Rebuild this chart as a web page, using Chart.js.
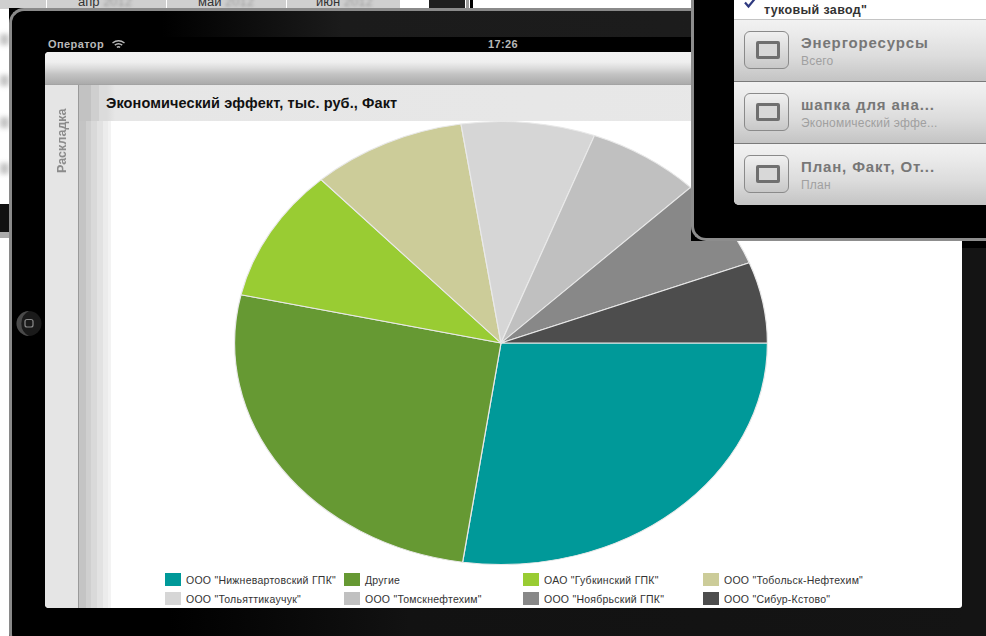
<!DOCTYPE html>
<html lang="ru">
<head>
<meta charset="utf-8">
<title>Экономический эффект, тыс. руб., Факт</title>
<script src="https://cdn.jsdelivr.net/npm/chart.js@4"></script>
<style>
  html, body { margin: 0; padding: 0; background: #fff; }
  #stage { position: relative; width: 986px; height: 636px; overflow: hidden; background: #fff;
           font-family: "Liberation Sans", Arial, sans-serif; }
  #stage div, #stage span, #stage canvas, #stage svg { position: absolute; }

  /* page behind the tablet */
  .cell { top: 0; height: 9px; background: #cfcfcf; font-size: 13px; line-height: 3px; color: #333; overflow: hidden; white-space: nowrap; }
  .cell i { font-style: normal; color: #999; filter: blur(1.4px); }
  .smear { left: 0; width: 9px; height: 11px; background: #c4c4c4; filter: blur(2.5px); }

  /* tablet body */
  #body { left: 9px; top: 8px; width: 990px; height: 640px; background: #000; }
  #edge { left: 0; top: 0; width: 990px; height: 640px; box-sizing: border-box; border: 3px solid #8a8a8a;
          border-right: 0; border-bottom: 0; border-radius: 15px 0 0 15px; }
  #shine { left: 3px; top: 3px; width: 987px; height: 26px;
           background: linear-gradient(90deg, #000 0, #000 150px, #1b1b1b 330px, #1d1d1d 100%); }
  #sheen { left: 160px; top: 600px; width: 830px; height: 40px;
           background: linear-gradient(90deg, #000 0, #121212 240px, #141414 100%); }
  #rightband { left: 953px; top: 240px; width: 40px; height: 400px; background: #141414; }

  /* screen */
  #screen { left: 45px; top: 52px; width: 917px; height: 556px; background: #fff; border-radius: 4px 4px 3px 4px; overflow: hidden; }
  #bar { left: 0; top: 0; width: 100%; height: 33px;
         background: linear-gradient(#f1f1f1 0, #efefef 10px, #dcdcdc 16px, #c4c4c4 22px, #ababab 32px, #9c9c9c 33px); }
  #side { left: 0; top: 33px; width: 33px; height: 523px; background: #e5e5e5; border-right: 1px solid #9a9a9a; }
  #sideLabel { left: 10px; top: 20px; width: 14px; height: 71px; color: #8b8b8b; font-size: 12.5px; font-weight: bold;
               writing-mode: vertical-rl; transform: rotate(180deg); text-align: center; line-height: 14px; white-space: nowrap; }
  #stripes { left: 34px; top: 33px; width: 32px; height: 523px;
             background: linear-gradient(90deg, #c4c4c4 0 7px, #cfcfcf 7px 12px, #d9d9d9 12px 18px, #e2e2e2 18px 24px, #ececec 24px 29px, #f3f3f3 29px 32px); }
  #titleBar { left: 34px; top: 33px; width: 883px; height: 36px;
              background: linear-gradient(90deg, #c2c2c2 0 12px, #cfcfcf 12px 20px, #dbdbdb 20px 28px, #e6e6e6 36px, #e8e8e8 100%); }
  #title { left: 61px; top: 43px; font-size: 14.5px; font-weight: bold; color: #111; white-space: nowrap; letter-spacing: .1px; }

  /* chart */
  #chartBox { left: 234px; top: 121px; width: 534px; height: 444px; }

  /* legend */
  .swatch { width: 16px; height: 13px; }
  .legendText { font-size: 10.5px; line-height: 13px; color: #333; white-space: nowrap; letter-spacing: .25px; }

  /* status bar */
  .status { color: #b9b9b9; font-weight: bold; font-size: 11px; white-space: nowrap; letter-spacing: .4px; }

  /* popover */
  #popBack { left: 691px; top: 0; width: 300px; height: 241px; background: #000; }
  #popFrame { left: 0; top: -20px; width: 300px; height: 261px; box-sizing: border-box; background: #000;
              border: 3px solid #8d8d8d; border-right: 0; border-top: 0; border-radius: 0 0 0 15px; }
  #list { left: 734px; top: 0; width: 252px; height: 205px; background: #fff; border-radius: 0 0 0 5px; overflow: hidden; }
  .row { left: 0; width: 252px; height: 61px;
         background: linear-gradient(#f2f2f2 0, #ececec 20%, #dcdcdc 60%, #c4c4c4 100%); }
  .rowLine { left: 0; width: 252px; height: 1px; background: #7a7a7a; }
  .btn { left: 10px; width: 45px; height: 38px; box-sizing: border-box; border: 1px solid #8a8a8a; border-radius: 6px;
         background: linear-gradient(#f0f0f0, #c8c8c8); }
  .btn div { left: 11px; top: 9px; width: 24px; height: 18px; box-sizing: border-box; border: 3px solid #6f6f6f; border-radius: 2px; background: #d8d8d8; }
  .rowHead { left: 67px; font-size: 15px; font-weight: bold; color: #777; white-space: nowrap; letter-spacing: .85px; }
  .rowSub { left: 67px; font-size: 12px; color: #a0a0a0; white-space: nowrap; letter-spacing: .2px; }
</style>
</head>
<body>
<div id="stage">
  <!-- spreadsheet page showing behind the device -->
  <div class="cell" style="left:0;width:46px"></div>
  <div class="cell" style="left:47px;width:119px;padding-left:31px;box-sizing:border-box">апр <i>2012</i></div>
  <div class="cell" style="left:167px;width:119px;padding-left:31px;box-sizing:border-box">май <i>2012</i></div>
  <div class="cell" style="left:287px;width:113px;padding-left:29px;box-sizing:border-box">июн <i>2012</i></div>
  <div style="left:429px;top:0;width:36px;height:9px;background:#1e1e1e"></div>
  <div style="left:466px;top:0;width:3px;height:9px;background:#999"></div>
  <div style="left:470px;top:0;width:3px;height:9px;background:#000"></div>
  <div class="smear" style="top:34px"></div>
  <div class="smear" style="top:75px"></div>
  <div class="smear" style="top:117px"></div>
  <div class="smear" style="top:163px"></div>
  <div style="left:0;top:204px;width:9px;height:28px;background:#111"></div>
  <div style="left:0;top:232px;width:9px;height:6px;background:#aaa"></div>

  <div id="body">
    <div id="shine"></div>
    <div id="sheen"></div>
    <div id="rightband"></div>
    <div id="edge"></div>
  </div>

  <div class="status" style="left:48px;top:38px">Оператор</div>
  <svg style="left:111px;top:39px" width="15" height="11" viewBox="0 0 15 11" fill="none" stroke="#b9b9b9" stroke-width="1.5">
    <path d="M1.5 4 Q7.5 -0.5 13.5 4"/><path d="M3.8 6.2 Q7.5 3.4 11.2 6.2"/><path d="M5.9 8.3 Q7.5 7 9.1 8.3"/>
  </svg>
  <div class="status" style="left:488px;top:38px">17:26</div>

  <!-- home button -->
  <svg style="left:15px;top:310px" width="27" height="27" viewBox="0 0 27 27">
    <circle cx="14" cy="13.5" r="12.5" fill="#1a1a1a"/>
    <path d="M14 1 A12.5 12.5 0 0 0 14 26 A14 14 0 0 1 14 1" fill="#4a4a4a"/>
    <rect x="10" y="9.5" width="8" height="7.5" rx="2" fill="none" stroke="#8a8a8a" stroke-width="1.2"/>
  </svg>

  <div id="screen">
    <div id="bar"></div>
    <div id="stripes"></div>
    <div id="titleBar"></div>
    <div id="side"><div id="sideLabel">Раскладка</div></div>
    <div id="title">Экономический эффект, тыс. руб., Факт</div>
  </div>

  <div id="chartBox"><canvas id="pie" width="534" height="444"></canvas></div>
  <div id="legend"></div>

  <div id="popBack"><div id="popFrame"></div></div>
  <div id="list">
    <svg style="left:10px;top:-2px" width="13" height="11" viewBox="0 0 13 11" fill="none" stroke="#2f3a80" stroke-width="2.2"><path d="M1 4.5 L4.5 8.5 L11.5 0"/></svg>
    <div style="left:30px;top:3px;font-size:12.5px;font-weight:bold;color:#333;white-space:nowrap;letter-spacing:.35px">туковый завод"</div>
    <div style="left:0;top:19px;width:252px;height:1px;background:#c4c4c4"></div>
    <div id="rows"></div>
  </div>
</div>

<script>
// Slices run clockwise from three o'clock; values are shares of the total, in percent.
const categories = [
  'ООО "Нижневартовский ГПК"', 'Другие', 'ОАО "Губкинский ГПК"', 'ООО "Тобольск-Нефтехим"',
  'ООО "Тольяттикаучук"', 'ООО "Томскнефтехим"', 'ООО "Ноябрьский ГПК"', 'ООО "Сибур-Кстово"'
];
const economicEffect = [27.3, 26.2, 9.7, 9.4, 8.1, 6.9, 6.5, 5.9];
const sliceColors = ['#009999', '#669933', '#99CC33', '#CCCC99', '#D6D6D6', '#C0C0C0', '#888888', '#4D4D4D'];

const menuHeads = ['Энергоресурсы', 'шапка для ана...', 'План, Факт, От...'];
const menuSubs = ['Всего', 'Экономический эффе...', 'План'];

// Legend: four columns, two rows, filled left to right.
const legendColumns = [165, 344, 523, 703];
const legendRows = [573, 592];
const legendEl = document.getElementById('legend');
categories.forEach((name, i) => {
  const x = legendColumns[i % 4], y = legendRows[Math.floor(i / 4)];
  const sw = document.createElement('div');
  sw.className = 'swatch';
  sw.style.cssText = `left:${x}px;top:${y}px;background:${sliceColors[i]}`;
  const tx = document.createElement('div');
  tx.className = 'legendText';
  tx.style.cssText = `left:${x + 21}px;top:${y + 1}px`;
  tx.textContent = name;
  legendEl.append(sw, tx);
});

// Menu rows in the popover.
const rowsEl = document.getElementById('rows');
menuHeads.forEach((head, i) => {
  const top = 20 + i * 62;
  rowsEl.insertAdjacentHTML('beforeend',
    `<div class="row" style="top:${top}px"></div>` +
    `<div class="rowLine" style="top:${top + 61}px;${i === 2 ? 'display:none' : ''}"></div>` +
    `<div class="btn" style="top:${top + 11}px"><div></div></div>` +
    `<div class="rowHead" style="top:${top + 14}px">${head}</div>` +
    `<div class="rowSub" style="top:${top + 34}px">${menuSubs[i]}</div>`);
});

// The pie is stretched sideways into an ellipse while its arcs are drawn.
const widenPie = {
  id: 'widenPie',
  beforeDatasetsDraw(chart) {
    const { ctx, chartArea } = chart;
    const cx = (chartArea.left + chartArea.right) / 2;
    const k = chartArea.width / chartArea.height;
    ctx.save();
    ctx.translate(cx, 0);
    ctx.scale(k, 1);
    ctx.translate(-cx, 0);
  },
  afterDatasetsDraw(chart) {
    chart.ctx.restore();
  }
};

new Chart(document.getElementById('pie'), {
  type: 'pie',
  data: {
    labels: categories,
    datasets: [{
      data: economicEffect,
      backgroundColor: sliceColors,
      borderColor: '#e9e9e9',
      borderWidth: 1,
      clip: false
    }]
  },
  options: {
    responsive: false,
    animation: false,
    rotation: 90,
    layout: { padding: 0 },
    plugins: { legend: { display: false }, tooltip: { enabled: false } }
  },
  plugins: [widenPie]
});
</script>
</body>
</html>
